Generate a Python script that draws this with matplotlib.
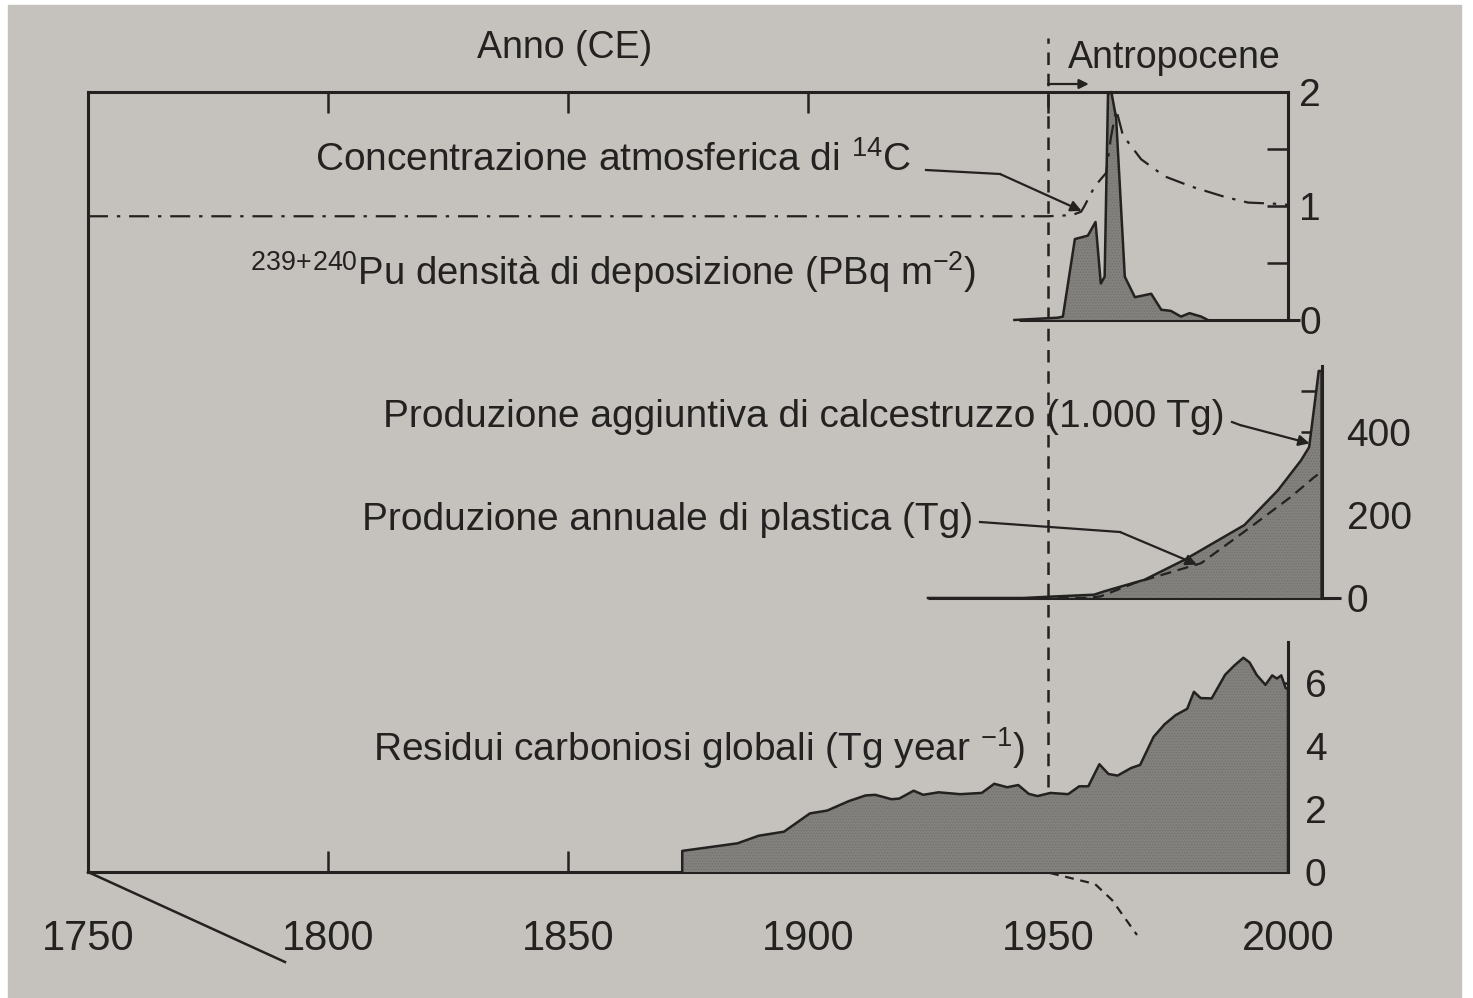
import numpy as np
import matplotlib
matplotlib.use("Agg")
import matplotlib.pyplot as plt
from matplotlib.patches import Rectangle
from matplotlib.ticker import FixedLocator

W, H = 1473, 998

# --- data ----------------------------------------------------------------
# 239+240Pu deposition density (PBq m-2)
pu_years = [1943, 1952, 1953.1, 1955.6, 1958.3, 1959.9, 1961.0, 1961.8, 1962.5,
            1963.2, 1964.2, 1966.0, 1968.1, 1971.5, 1973.6, 1975.6, 1977.7,
            1979.5, 1981.9, 1983.3]
pu_vals = [0.0, 0.02, 0.03, 0.71, 0.74, 0.86, 0.32, 0.38, 1.98,
           2.0, 1.77, 0.38, 0.20, 0.23, 0.09, 0.08, 0.03,
           0.06, 0.03, 0.0]

# atmospheric 14C (relative)
c14_years = [1750, 1950, 1955, 1956.9, 1957.6, 1959.7, 1962.1, 1963.1, 1964.2,
             1965.6, 1969.4, 1974.3, 1979.9, 1986.8, 1991.7, 1997.2, 2000]
c14_vals = [0.91, 0.91, 0.92, 0.95, 1.0, 1.17, 1.29, 1.6, 1.85,
            1.62, 1.41, 1.26, 1.17, 1.08, 1.03, 1.02, 1.01]

# extra concrete production (1000 Tg)
concrete_years = [1925, 1945, 1950, 1959.6, 1961.7, 1970.1, 1978.4, 1990.9,
                  1997.9, 2002.7, 2004.4, 2005.8, 2006.4, 2007]
concrete_vals = [0, 0, 3, 8, 16, 44, 92, 176, 260, 332, 364, 492, 548, 548]

# annual plastic production (Tg)
plastic_years = [1952, 1958.3, 1961, 1968, 1981.9, 1992.3, 2000.6, 2005.5, 2007]
plastic_vals = [0, 0, 4, 36, 84, 172, 244, 292, 305]

# global black carbon (Tg year-1)
bc_years = [1873.8, 1885.3, 1889.7, 1895.0, 1900.4, 1904, 1908.5, 1912.0,
            1914, 1917.4, 1919, 1922.0, 1924, 1927.2, 1931.7, 1936.2, 1938.8,
            1941.5, 1943.8, 1946.0, 1947.8, 1950.5, 1954.2, 1956.5, 1958.4,
            1960.7, 1962.6, 1964.5, 1967.3, 1969.2, 1972.0, 1974.3, 1976.6,
            1979.0, 1980.4, 1981.8, 1984.1, 1986.9, 1988.8, 1990.7, 1992.0,
            1993.5, 1995.3, 1996.7, 1997.7, 1998.6, 1999.5, 2000]
bc_vals = [0.67, 0.91, 1.15, 1.28, 1.86, 1.95, 2.25, 2.43,
           2.45, 2.31, 2.33, 2.58, 2.45, 2.53, 2.47, 2.51, 2.80,
           2.69, 2.76, 2.48, 2.41, 2.51, 2.47, 2.72, 2.72,
           3.42, 3.11, 3.06, 3.30, 3.40, 4.29, 4.69, 4.98,
           5.18, 5.72, 5.52, 5.51, 6.26, 6.55, 6.80, 6.65,
           6.25, 5.94, 6.24, 6.14, 6.24, 5.84, 5.80]

year_ticks = [1750, 1800, 1850, 1900, 1950, 2000]

# --- style -----------------------------------------------------------------
INK = '#232221'
PAPER = '#c5c2bd'
FILL = '#83817d'
HATCH = '#72706c'

plt.rcParams['font.family'] = ['Liberation Sans', 'DejaVu Sans']
plt.rcParams['mathtext.fontset'] = 'custom'
plt.rcParams['mathtext.rm'] = 'Liberation Sans'
plt.rcParams['mathtext.it'] = 'Liberation Sans'
plt.rcParams['mathtext.default'] = 'rm'
plt.rcParams['hatch.linewidth'] = 0.5
plt.rcParams['text.color'] = INK

X0, X1 = 88, 1288          # pixel x of 1750 and 2000
LW = 2.2
TXT = 28


def fx(px):
    return px / W


def fy(py):
    return 1 - py / H


fig = plt.figure(figsize=(W / 100, H / 100), dpi=100)
fig.patch.set_facecolor('white')
fig.add_artist(Rectangle((fx(8), 0), fx(1461) - fx(8), fy(5),
                         transform=fig.transFigure, color=PAPER, zorder=-10))


def panel(top_px, bottom_px):
    ax = fig.add_axes([fx(X0), fy(bottom_px), fx(X1) - fx(X0),
                       (bottom_px - top_px) / H])
    ax.set_xlim(1750, 2000)
    ax.patch.set_alpha(0)
    for s in ax.spines.values():
        s.set_visible(False)
    ax.set_xticks([])
    return ax


def right_axis(ax, major, minor, pos=2000, pad=10):
    sp = ax.spines['right']
    sp.set_visible(True)
    sp.set_position(('data', pos))
    sp.set_linewidth(LW)
    sp.set_color(INK)
    ax.yaxis.tick_right()
    ax.set_yticks(major)
    ax.yaxis.set_minor_locator(FixedLocator(minor))
    ax.tick_params(axis='y', which='both', direction='in', length=15,
                   width=1.8, color=INK, labelsize=TXT, pad=pad, labelcolor=INK)


def hatched_area(ax, xs, ys):
    xs = np.r_[xs[0], xs, xs[-1]]
    ys = np.r_[0, ys, 0]
    ax.fill_between(xs, ys, facecolor=FILL, edgecolor=HATCH, hatch='......',
                    linewidth=0, zorder=2, clip_on=False)
    ax.plot(xs, ys, color=INK, lw=1.8, zorder=3, clip_on=False)


# main frame
ax = panel(92, 872)
ax.set_ylim(0, 1)
for side in ('left', 'top', 'bottom'):
    ax.spines[side].set_visible(True)
    ax.spines[side].set_linewidth(LW)
    ax.spines[side].set_color(INK)
ax.set_xticks(year_ticks)
ax.set_yticks([])
ax.tick_params(axis='x', which='both', direction='in', length=15, width=1.8,
               color=INK, top=True, labelsize=30, pad=34, labelcolor=INK)

# top panel: 14C and Pu
ax_top = panel(92, 320)
ax_top.set_ylim(0, 2)
right_axis(ax_top, [0, 1, 2], [0.5, 1.5], pad=8)
ax_top.hlines(0, 1944, 2002.5, color=INK, lw=LW, clip_on=False)
hatched_area(ax_top, pu_years, pu_vals)
ax_top.plot(c14_years, c14_vals, color=INK, lw=1.6,
            linestyle=(0, (9, 4, 1.5, 4)), zorder=4, clip_on=False)

# middle panel: concrete and plastic
ax_mid = panel(366, 598)
ax_mid.set_ylim(0, 560)
right_axis(ax_mid, [0, 200, 400], [100, 300, 500], pos=2007, pad=18)
ax_mid.hlines(0, 1925, 2011, color=INK, lw=LW, clip_on=False)
hatched_area(ax_mid, concrete_years, concrete_vals)
ax_mid.plot(plastic_years, plastic_vals, color=INK, lw=1.6,
            linestyle=(0, (5, 3)), zorder=4, clip_on=False)

# bottom panel: black carbon
ax_bot = panel(642, 872)
ax_bot.set_ylim(0, 7.3)
right_axis(ax_bot, [0, 2, 4, 6], [], pad=12)
hatched_area(ax_bot, bc_years, bc_vals)

# 1950 boundary
top_ext = 1 + (92 - 38) / (872 - 92)
ax.plot([1950, 1950], [0, top_ext], color=INK, lw=1.8,
        linestyle=(0, (5, 3.5)), clip_on=False, zorder=5)
arrow_y = 1 + (92 - 84) / (872 - 92)
ax.annotate('', xy=(1958.5, arrow_y), xytext=(1950, arrow_y),
            xycoords=ax.get_xaxis_transform(), annotation_clip=False,
            arrowprops=dict(arrowstyle='-|>', color=INK, lw=1.6,
                            mutation_scale=14, shrinkA=0, shrinkB=0))

# texts
fig.text(fx(565), fy(48), 'Anno (CE)', fontsize=27, ha='center', va='center')
fig.text(fx(1068), fy(58), 'Antropocene', fontsize=27, ha='left', va='center')
fig.text(fx(315), fy(160), r'Concentrazione atmosferica di $^{14}$C',
         fontsize=TXT, ha='left', va='center')
fig.text(fx(250), fy(272),
         r'$^{239\!+\!240}$Pu densità di deposizione (PBq m$^{-2}$)',
         fontsize=27.5, ha='left', va='center')
fig.text(fx(383), fy(417), 'Produzione aggiuntiva di calcestruzzo (1.000 Tg)',
         fontsize=TXT, ha='left', va='center')
fig.text(fx(362), fy(520), 'Produzione annuale di plastica (Tg)',
         fontsize=TXT, ha='left', va='center')
fig.text(fx(373), fy(748), r'Residui carboniosi globali (Tg year $^{-1}$)',
         fontsize=TXT, ha='left', va='center')


# leader lines (figure pixels, top origin)
def leader(points, ax_tip, tip):
    xs = [fx(p[0]) for p in points]
    ys = [fy(p[1]) for p in points]
    fig.add_artist(plt.Line2D(xs, ys, color=INK, lw=1.6,
                              transform=fig.transFigure))
    ax_tip.annotate('', xy=tip, xytext=(xs[-1], ys[-1]),
                    textcoords='figure fraction', annotation_clip=False,
                    arrowprops=dict(arrowstyle='-|>', color=INK, lw=1.6,
                                    mutation_scale=16, shrinkA=0, shrinkB=0))


leader([(926, 170), (1000, 174)], ax_top,
       (1957, np.interp(1957, c14_years, c14_vals)))
leader([(1232, 422), (1240, 425)], ax_mid,
       (2004.5, np.interp(2004.5, concrete_years, concrete_vals)))
leader([(980, 522), (1120, 532)], ax_mid,
       (1981, np.interp(1981, plastic_years, plastic_vals)))

# decorative strokes below the axis
fig.add_artist(plt.Line2D([fx(88), fx(285)], [fy(872), fy(962)], color=INK,
                          lw=1.8, transform=fig.transFigure))
curve = [(1050, 873), (1095, 884), (1112, 900), (1137, 935)]
fig.add_artist(plt.Line2D([fx(p[0]) for p in curve], [fy(p[1]) for p in curve],
                          color=INK, lw=1.6, linestyle=(0, (4, 3)),
                          transform=fig.transFigure))

fig.savefig('out.png', dpi=100, facecolor=fig.get_facecolor())
